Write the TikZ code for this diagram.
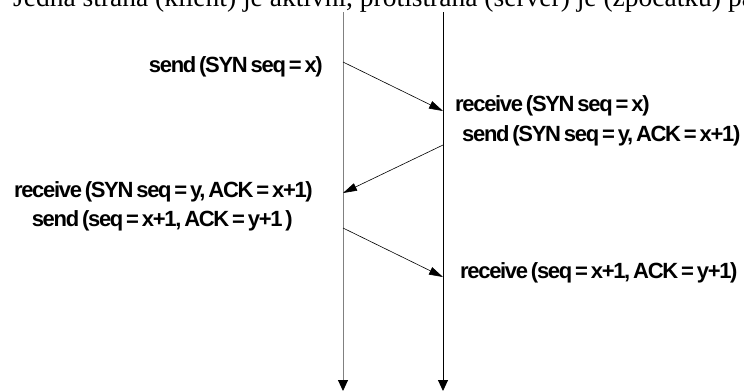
\documentclass[tikz,border=0pt]{standalone}
\usepackage{fontspec}
\usepackage{tikz}
\setmainfont{Liberation Serif}
\newfontfamily\msgfont[LetterSpace=-6,WordSpace=0.6]{Liberation Sans Bold}
\usetikzlibrary{
	arrows.meta
}

\tikzset{
	msg/.style={inner sep=0, font=\msgfont\fontsize{22bp}{26bp}\selectfont},
	life/.style={line width=0.9bp, -{Triangle[length=11bp,width=10bp,color=black]}},
	pkt/.style={line width=0.6bp, -{Triangle[length=14bp,width=8bp]}}
}

\begin{document}
\begin{tikzpicture}[
	x=1bp, y=-1bp
]
	\useasboundingbox (0,0) rectangle (744,391);
	\clip (0,0) rectangle (744,391);

	\node(title)[anchor=base west, inner sep=0, font=\fontsize{27.5bp}{32bp}\selectfont]
		at (13,6.5) {Jedna strana (klient) je aktivní, protistrana (server) je (zpočátku) pasivní};

	% lifelines of client and server
	\coordinate (ctop) at (343,12);
	\coordinate (cbot) at (343,391);
	\coordinate (stop) at (443,12);
	\coordinate (sbot) at (443,391);

	\draw[life, gray] (ctop) -- (cbot);
	\draw[life] (stop) -- (sbot);

	% message end points
	\coordinate (syn1) at (343,62);
	\coordinate (syn2) at (443,111);
	\coordinate (ack1) at (443,145);
	\coordinate (ack2) at (343,193);
	\coordinate (fin1) at (343,228);
	\coordinate (fin2) at (443,277);

	\draw[pkt] (syn1) -- (syn2);
	\draw[pkt] (ack1) -- (ack2);
	\draw[pkt] (fin1) -- (fin2);

	\node(sendsyn)[msg, anchor=east] at (323,67) {send (SYN seq = x)};
	\node(recvsyn)[msg, anchor=west] at (455,106) {receive (SYN seq = x)};
	\node(sendack)[msg, anchor=west] at (462,136) {send (SYN seq = y, ACK = x+1)};
	\node(recvack)[msg, anchor=east] at (313,192) {receive (SYN seq = y, ACK = x+1)};
	\node(sendfin)[msg, anchor=east] at (293,221) {send (seq = x+1, ACK = y+1 )};
	\node(recvfin)[msg, anchor=west] at (460,273) {receive (seq = x+1, ACK = y+1)};
\end{tikzpicture}
\end{document}
